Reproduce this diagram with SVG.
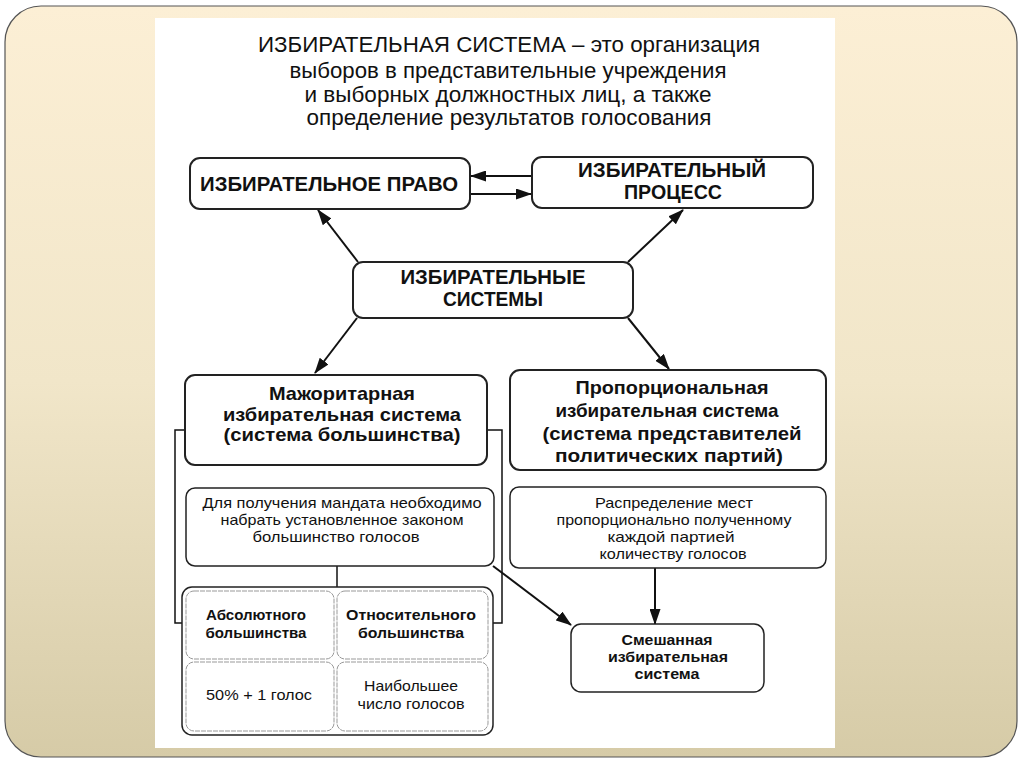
<svg xmlns="http://www.w3.org/2000/svg" width="1024" height="767" viewBox="0 0 1024 767">
<defs>
<linearGradient id="bg" x1="0" y1="0" x2="0" y2="1">
<stop offset="0" stop-color="#fcefd5"/>
<stop offset="0.5" stop-color="#f1e6c9"/>
<stop offset="1" stop-color="#d6cba7"/>
</linearGradient>
<marker id="ah" viewBox="0 0 16 11" refX="15" refY="5.5" markerWidth="16" markerHeight="11" markerUnits="userSpaceOnUse" orient="auto">
<path d="M0,0 L16,5.5 L0,11 z" fill="#111"/>
</marker>
<style>
.box{fill:#fff;stroke:#222;stroke-width:2}
.cell{fill:#fff;stroke:#999;stroke-width:1;stroke-dasharray:5 1}
.con{stroke:#111;stroke-width:2;fill:none}
text{font-family:"Liberation Sans",Arial,sans-serif;fill:#111;text-anchor:middle}
.ttl{font-size:22px}
.b20{font-size:20px;font-weight:bold}
.b19{font-size:19px;font-weight:bold}
.b15{font-size:15px;font-weight:bold}
.n15{font-size:15px}
</style>
</defs>
<rect x="0" y="0" width="1024" height="767" fill="#fff"/>
<rect x="5" y="6" width="1012" height="751" rx="36" ry="36" fill="url(#bg)" stroke="#555" stroke-width="1.2"/>
<rect x="155" y="18" width="680" height="730" fill="#fff"/>

<g id="title">
<text class="ttl" x="509" y="52" textLength="502" lengthAdjust="spacingAndGlyphs">ИЗБИРАТЕЛЬНАЯ СИСТЕМА – это организация</text>
<text class="ttl" x="508" y="78" textLength="437" lengthAdjust="spacingAndGlyphs">выборов в представительные учреждения</text>
<text class="ttl" x="508" y="102" textLength="407" lengthAdjust="spacingAndGlyphs">и выборных должностных лиц, а также</text>
<text class="ttl" x="509" y="125" textLength="405" lengthAdjust="spacingAndGlyphs">определение результатов голосования</text>
</g>

<g id="connectors">
<line class="con" x1="532" y1="176" x2="471" y2="176" marker-end="url(#ah)"/>
<line class="con" x1="470" y1="194" x2="531" y2="194" marker-end="url(#ah)"/>
<line class="con" x1="358" y1="262" x2="318" y2="210" marker-end="url(#ah)"/>
<line class="con" x1="628" y1="262" x2="683" y2="210" marker-end="url(#ah)"/>
<line class="con" x1="357" y1="318" x2="315" y2="373" marker-end="url(#ah)"/>
<line class="con" x1="628" y1="318" x2="669" y2="369" marker-end="url(#ah)"/>
<polyline class="con" points="185,430 175,430 175,623 182,623" style="stroke-width:1.5"/>
<polyline class="con" points="487,430 502,430 502,623 493,623" style="stroke-width:1.5"/>
<line class="con" x1="337" y1="566" x2="337" y2="587" style="stroke-width:1.5"/>
<line class="con" x1="493" y1="566" x2="571" y2="625" marker-end="url(#ah)"/>
<line class="con" x1="655" y1="568" x2="655" y2="624" marker-end="url(#ah)"/>
</g>

<g id="pravo">
<rect class="box" x="190" y="158" width="280" height="51" rx="10"/>
<text class="b20" x="329" y="191" textLength="258" lengthAdjust="spacingAndGlyphs">ИЗБИРАТЕЛЬНОЕ ПРАВО</text>
</g>
<g id="process">
<rect class="box" x="532" y="157" width="281" height="51" rx="10"/>
<text class="b20" x="672" y="177" textLength="188" lengthAdjust="spacingAndGlyphs">ИЗБИРАТЕЛЬНЫЙ</text>
<text class="b20" x="673" y="199" textLength="98" lengthAdjust="spacingAndGlyphs">ПРОЦЕСС</text>
</g>
<g id="systems">
<rect class="box" x="353" y="262" width="280" height="56" rx="10"/>
<text class="b20" x="493" y="284" textLength="185" lengthAdjust="spacingAndGlyphs">ИЗБИРАТЕЛЬНЫЕ</text>
<text class="b20" x="493" y="306" textLength="100" lengthAdjust="spacingAndGlyphs">СИСТЕМЫ</text>
</g>
<g id="major">
<rect class="box" x="185" y="375" width="302" height="90" rx="10"/>
<text class="b19" x="342" y="400" textLength="146" lengthAdjust="spacingAndGlyphs">Мажоритарная</text>
<text class="b19" x="342" y="421" textLength="238" lengthAdjust="spacingAndGlyphs">избирательная система</text>
<text class="b19" x="342" y="441" textLength="237" lengthAdjust="spacingAndGlyphs">(система большинства)</text>
</g>
<g id="prop">
<rect class="box" x="510" y="370" width="316" height="100" rx="10"/>
<text class="b19" x="672" y="394" textLength="193" lengthAdjust="spacingAndGlyphs">Пропорциональная</text>
<text class="b19" x="667" y="417" textLength="223" lengthAdjust="spacingAndGlyphs">избирательная система</text>
<text class="b19" x="672" y="440" textLength="259" lengthAdjust="spacingAndGlyphs">(система представителей</text>
<text class="b19" x="669" y="462" textLength="228" lengthAdjust="spacingAndGlyphs">политических партий)</text>
</g>
<g id="major-desc">
<rect class="box" x="186" y="488" width="308" height="78" rx="9" style="stroke-width:1.5"/>
<text class="n15" x="342" y="508" textLength="279" lengthAdjust="spacingAndGlyphs">Для получения мандата необходимо</text>
<text class="n15" x="342" y="525" textLength="243" lengthAdjust="spacingAndGlyphs">набрать установленное законом</text>
<text class="n15" x="336" y="542" textLength="167" lengthAdjust="spacingAndGlyphs">большинство голосов</text>
</g>
<g id="prop-desc">
<rect class="box" x="510" y="487" width="316" height="81" rx="9" style="stroke-width:1.5"/>
<text class="n15" x="674" y="508" textLength="158" lengthAdjust="spacingAndGlyphs">Распределение мест</text>
<text class="n15" x="674" y="525" textLength="235" lengthAdjust="spacingAndGlyphs">пропорционально полученному</text>
<text class="n15" x="671" y="542" textLength="127" lengthAdjust="spacingAndGlyphs">каждой партией</text>
<text class="n15" x="673" y="559" textLength="147" lengthAdjust="spacingAndGlyphs">количеству голосов</text>
</g>
<g id="types">
<rect class="box" x="182" y="587" width="311" height="148" rx="10" style="stroke-width:1.5"/>
<rect class="cell" x="186" y="591" width="148" height="68" rx="8"/>
<rect class="cell" x="337" y="591" width="151" height="68" rx="8"/>
<rect class="cell" x="186" y="662" width="148" height="69" rx="8"/>
<rect class="cell" x="337" y="662" width="151" height="69" rx="8"/>
<text class="b15" x="256" y="620" textLength="100" lengthAdjust="spacingAndGlyphs">Абсолютного</text>
<text class="b15" x="256" y="638" textLength="101" lengthAdjust="spacingAndGlyphs">большинства</text>
<text class="b15" x="411" y="620" textLength="130" lengthAdjust="spacingAndGlyphs">Относительного</text>
<text class="b15" x="411" y="638" textLength="106" lengthAdjust="spacingAndGlyphs">большинства</text>
<text class="n15" x="259" y="700" textLength="106" lengthAdjust="spacingAndGlyphs">50% + 1 голос</text>
<text class="n15" x="411" y="691" textLength="94" lengthAdjust="spacingAndGlyphs">Наибольшее</text>
<text class="n15" x="411" y="709" textLength="107" lengthAdjust="spacingAndGlyphs">число голосов</text>
</g>
<g id="mixed">
<rect class="box" x="571" y="624" width="193" height="68" rx="10" style="stroke-width:1.5"/>
<text class="b15" x="667" y="645" textLength="91" lengthAdjust="spacingAndGlyphs">Смешанная</text>
<text class="b15" x="668" y="662" textLength="120" lengthAdjust="spacingAndGlyphs">избирательная</text>
<text class="b15" x="667" y="679" textLength="65" lengthAdjust="spacingAndGlyphs">система</text>
</g>
</svg>
